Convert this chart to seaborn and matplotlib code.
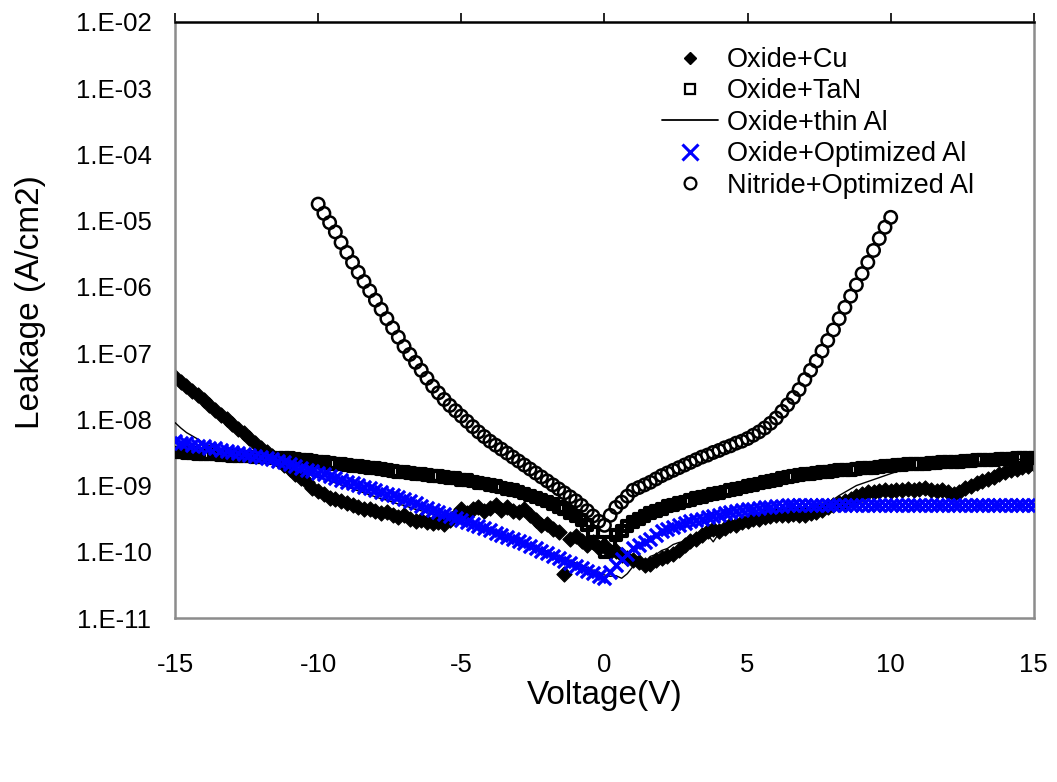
import numpy as np
import matplotlib
matplotlib.use("Agg")
import matplotlib.pyplot as plt
from matplotlib.lines import Line2D
import seaborn as sns

# Voltage sweeps (V)
volts = np.round(np.linspace(-15, 15, 151), 1)
volts_nitride = np.round(np.linspace(-10, 10, 101), 1)

# log10 of leakage (A/cm2), 0.2 V steps (5 values per volt)
log_cu = [
    -7.36, -7.43, -7.50, -7.57, -7.64,   # -15
    -7.71, -7.79, -7.86, -7.93, -8.00,   # -14
    -8.07, -8.14, -8.21, -8.28, -8.36,   # -13
    -8.43, -8.50, -8.56, -8.62, -8.69,   # -12
    -8.75, -8.82, -8.88, -8.95, -9.04,   # -11
    -9.08, -9.12, -9.19, -9.21, -9.24,   # -10
    -9.27, -9.30, -9.33, -9.35, -9.36,   # -9
    -9.38, -9.42, -9.40, -9.44, -9.47,   # -8
    -9.45, -9.50, -9.54, -9.52, -9.55,   # -7
    -9.57, -9.55, -9.58, -9.52, -9.45,   # -6
    -9.35, -9.42, -9.36, -9.32, -9.38,   # -5
    -9.34, -9.30, -9.37, -9.33, -9.39,   # -4
    -9.40, -9.36, -9.45, -9.52, -9.60,   # -3
    -9.58, -9.65, -9.70, -10.33, -9.80,  # -2
    -9.76, -9.84, -9.90, -9.85, -9.95,   # -1
    -9.90, -10.00, -9.99, -10.05, -10.10,  # 0
    -10.12, -10.16, -10.20, -10.19, -10.12,  # 1
    -10.10, -10.06, -10.04, -9.98, -9.90,  # 2
    -9.84, -9.80, -9.75, -9.69, -9.66,   # 3
    -9.69, -9.64, -9.60, -9.59, -9.55,   # 4
    -9.53, -9.51, -9.50, -9.47, -9.46,   # 5
    -9.45, -9.44, -9.44, -9.43, -9.45,   # 6
    -9.44, -9.42, -9.40, -9.37, -9.33,   # 7
    -9.30, -9.27, -9.24, -9.20, -9.16,   # 8
    -9.12, -9.10, -9.09, -9.08, -9.07,   # 9
    -9.08, -9.06, -9.06, -9.05, -9.07,   # 10
    -9.05, -9.04, -9.06, -9.08, -9.07,   # 11
    -9.10, -9.12, -9.09, -9.04, -9.00,   # 12
    -8.96, -8.93, -8.90, -8.87, -8.83,   # 13
    -8.80, -8.77, -8.75, -8.72, -8.70,   # 14
    -8.68,                               # 15
]

log_tan = [
    -8.50, -8.50, -8.51, -8.51, -8.52,   # -15
    -8.52, -8.53, -8.53, -8.54, -8.54,   # -14
    -8.55, -8.55, -8.56, -8.56, -8.57,   # -13
    -8.57, -8.57, -8.58, -8.58, -8.59,   # -12
    -8.59, -8.60, -8.61, -8.62, -8.63,   # -11
    -8.64, -8.65, -8.66, -8.67, -8.68,   # -10
    -8.69, -8.70, -8.71, -8.72, -8.73,   # -9
    -8.74, -8.75, -8.77, -8.78, -8.79,   # -8
    -8.80, -8.81, -8.82, -8.83, -8.84,   # -7
    -8.85, -8.86, -8.87, -8.88, -8.89,   # -6
    -8.91, -8.92, -8.94, -8.96, -8.97,   # -5
    -8.99, -9.01, -9.03, -9.05, -9.07,   # -4
    -9.09, -9.12, -9.15, -9.18, -9.21,   # -3
    -9.24, -9.28, -9.32, -9.36, -9.41,   # -2
    -9.46, -9.52, -9.60, -9.70, -9.85,   # -1
    -10.00, -9.85, -9.75, -9.68, -9.61,  # 0
    -9.55, -9.50, -9.46, -9.42, -9.38,   # 1
    -9.35, -9.31, -9.29, -9.26, -9.24,   # 2
    -9.22, -9.19, -9.17, -9.15, -9.13,   # 3
    -9.11, -9.09, -9.07, -9.05, -9.03,   # 4
    -9.01, -8.99, -8.97, -8.95, -8.93,   # 5
    -8.91, -8.89, -8.87, -8.85, -8.84,   # 6
    -8.83, -8.82, -8.81, -8.80, -8.79,   # 7
    -8.78, -8.77, -8.77, -8.76, -8.75,   # 8
    -8.74, -8.73, -8.73, -8.72, -8.71,   # 9
    -8.70, -8.69, -8.69, -8.68, -8.68,   # 10
    -8.67, -8.67, -8.66, -8.66, -8.65,   # 11
    -8.65, -8.64, -8.64, -8.63, -8.63,   # 12
    -8.62, -8.62, -8.61, -8.61, -8.60,   # 13
    -8.60, -8.60, -8.59, -8.59, -8.58,   # 14
    -8.58,                               # 15
]

log_thin_al = [
    -8.05, -8.13, -8.20, -8.25, -8.30,   # -15
    -8.36, -8.40, -8.43, -8.46, -8.48,   # -14
    -8.50, -8.52, -8.54, -8.56, -8.58,   # -13
    -8.60, -8.62, -8.64, -8.66, -8.69,   # -12
    -8.72, -8.75, -8.78, -8.81, -8.84,   # -11
    -8.87, -8.90, -8.93, -8.96, -8.99,   # -10
    -9.02, -9.05, -9.08, -9.11, -9.14,   # -9
    -9.17, -9.20, -9.22, -9.25, -9.28,   # -8
    -9.30, -9.33, -9.36, -9.38, -9.41,   # -7
    -9.43, -9.46, -9.48, -9.51, -9.53,   # -6
    -9.56, -9.58, -9.61, -9.63, -9.66,   # -5
    -9.68, -9.71, -9.74, -9.77, -9.80,   # -4
    -9.83, -9.86, -9.89, -9.93, -9.96,   # -3
    -9.99, -10.03, -10.06, -10.10, -10.13,  # -2
    -10.17, -10.20, -10.24, -10.28, -10.31,  # -1
    -10.35, -10.37, -10.36, -10.40, -10.33,  # 0
    -10.22, -10.14, -10.16, -10.07, -10.04,  # 1
    -9.98, -9.95, -9.89, -9.86, -9.84,   # 2
    -9.82, -9.80, -9.79, -9.74, -9.85,   # 3
    -9.72, -9.70, -9.66, -9.64, -9.62,   # 4
    -9.58, -9.55, -9.52, -9.50, -9.46,   # 5
    -9.45, -9.43, -9.42, -9.40, -9.38,   # 6
    -9.37, -9.35, -9.33, -9.30, -9.27,   # 7
    -9.21, -9.15, -9.10, -9.05, -9.00,   # 8
    -8.97, -8.94, -8.91, -8.88, -8.85,   # 9
    -8.82, -8.79, -8.77, -8.76, -8.74,   # 10
    -8.73, -8.72, -8.71, -8.70, -8.69,   # 11
    -8.68, -8.67, -8.67, -8.66, -8.65,   # 12
    -8.65, -8.64, -8.63, -8.63, -8.62,   # 13
    -8.62, -8.61, -8.61, -8.60, -8.60,   # 14
    -8.59,                               # 15
]

log_opt_al = [
    -8.33, -8.35, -8.36, -8.38, -8.40,   # -15
    -8.41, -8.43, -8.44, -8.46, -8.48,   # -14
    -8.49, -8.51, -8.52, -8.54, -8.56,   # -13
    -8.57, -8.59, -8.60, -8.63, -8.65,   # -12
    -8.68, -8.70, -8.73, -8.76, -8.78,   # -11
    -8.81, -8.83, -8.86, -8.89, -8.91,   # -10
    -8.94, -8.96, -8.99, -9.02, -9.04,   # -9
    -9.07, -9.09, -9.12, -9.15, -9.18,   # -8
    -9.21, -9.24, -9.27, -9.31, -9.34,   # -7
    -9.37, -9.40, -9.43, -9.46, -9.49,   # -6
    -9.52, -9.55, -9.58, -9.61, -9.64,   # -5
    -9.67, -9.71, -9.74, -9.77, -9.80,   # -4
    -9.84, -9.87, -9.91, -9.95, -9.99,   # -3
    -10.02, -10.06, -10.10, -10.14, -10.17,  # -2
    -10.21, -10.25, -10.29, -10.32, -10.36,  # -1
    -10.40, -10.30, -10.20, -10.11, -10.03,  # 0
    -9.95, -9.90, -9.85, -9.80, -9.74,   # 1
    -9.69, -9.65, -9.62, -9.59, -9.56,   # 2
    -9.54, -9.52, -9.50, -9.48, -9.46,   # 3
    -9.44, -9.42, -9.40, -9.38, -9.37,   # 4
    -9.36, -9.35, -9.34, -9.33, -9.32,   # 5
    -9.31, -9.31, -9.30, -9.30, -9.30,   # 6
    -9.29, -9.29, -9.29, -9.29, -9.29,   # 7
    -9.29, -9.29, -9.29, -9.29, -9.29,   # 8
    -9.29, -9.29, -9.29, -9.29, -9.29,   # 9
    -9.29, -9.29, -9.29, -9.29, -9.29,   # 10
    -9.29, -9.29, -9.29, -9.29, -9.29,   # 11
    -9.29, -9.29, -9.29, -9.29, -9.29,   # 12
    -9.29, -9.29, -9.29, -9.29, -9.29,   # 13
    -9.29, -9.29, -9.29, -9.29, -9.29,   # 14
    -9.29,                               # 15
]

log_nitride = [
    -4.75, -4.89, -5.03, -5.17, -5.33,   # -10
    -5.48, -5.63, -5.78, -5.92, -6.06,   # -9
    -6.20, -6.34, -6.48, -6.62, -6.76,   # -8
    -6.90, -7.02, -7.14, -7.26, -7.38,   # -7
    -7.50, -7.60, -7.70, -7.79, -7.87,   # -6
    -7.95, -8.03, -8.11, -8.19, -8.26,   # -5
    -8.33, -8.39, -8.45, -8.51, -8.57,   # -4
    -8.63, -8.69, -8.75, -8.81, -8.87,   # -3
    -8.93, -8.99, -9.05, -9.11, -9.17,   # -2
    -9.23, -9.30, -9.38, -9.46, -9.54,   # -1
    -9.60, -9.45, -9.33, -9.25, -9.16,   # 0
    -9.07, -9.03, -8.99, -8.95, -8.90,   # 1
    -8.85, -8.81, -8.77, -8.73, -8.69,   # 2
    -8.65, -8.61, -8.57, -8.54, -8.50,   # 3
    -8.47, -8.43, -8.40, -8.36, -8.33,   # 4
    -8.29, -8.24, -8.19, -8.13, -8.06,   # 5
    -7.98, -7.88, -7.78, -7.67, -7.55,   # 6
    -7.40, -7.26, -7.12, -6.97, -6.81,   # 7
    -6.65, -6.48, -6.31, -6.14, -5.97,   # 8
    -5.80, -5.63, -5.45, -5.27, -5.10,   # 9
    -4.95,                               # 10
]

labels = ["Oxide+Cu", "Oxide+TaN", "Oxide+thin Al",
          "Oxide+Optimized Al", "Nitride+Optimized Al"]
y_ticks = [1e-11, 1e-10, 1e-9, 1e-8, 1e-7, 1e-6, 1e-5, 1e-4, 1e-3, 1e-2]
y_tick_labels = ["1.E-11", "1.E-10", "1.E-09", "1.E-08", "1.E-07",
                 "1.E-06", "1.E-05", "1.E-04", "1.E-03", "1.E-02"]
x_ticks = [-15, -10, -5, 0, 5, 10, 15]

assert len(log_cu) == len(volts) == len(log_tan) == len(log_thin_al) == len(log_opt_al)
assert len(log_nitride) == len(volts_nitride)

sns.set_style("white")
plt.rcParams["font.family"] = ["Liberation Sans", "DejaVu Sans"]
plt.rcParams["text.color"] = "black"
plt.rcParams["axes.labelcolor"] = "black"
plt.rcParams["xtick.color"] = "black"
plt.rcParams["ytick.color"] = "black"

fig = plt.figure(figsize=(10.57, 7.82), dpi=100)
ax = fig.add_axes([0.1656, 0.2097, 0.8125, 0.7622])

blue = "#0000ff"

sns.scatterplot(x=volts, y=10 ** np.array(log_cu), marker="D", s=60,
                color="black", edgecolor="black", linewidth=0.8, ax=ax, zorder=2)
sns.scatterplot(x=volts, y=10 ** np.array(log_tan), marker="s", s=50,
                facecolor="none", edgecolor="black", linewidth=3.0, ax=ax, zorder=3)
sns.lineplot(x=volts, y=10 ** np.array(log_thin_al), color="black",
             linewidth=1.0, sort=False, estimator=None, ax=ax, zorder=4)
sns.scatterplot(x=volts, y=10 ** np.array(log_opt_al), marker="x", s=90,
                color=blue, linewidth=2.4, ax=ax, zorder=5)
sns.scatterplot(x=volts_nitride, y=10 ** np.array(log_nitride), marker="o", s=80,
                facecolor="none", edgecolor="black", linewidth=1.8, ax=ax, zorder=6)

ax.set_yscale("log")
ax.set_ylim(1e-11, 1e-2)
ax.set_xlim(-15, 15)
ax.set_yticks(y_ticks)
ax.set_yticklabels(y_tick_labels)
ax.minorticks_off()
ax.set_xticks(x_ticks)
ax.set_xticklabels([str(t) for t in x_ticks])

ax.tick_params(axis="y", left=False, length=0, pad=17, labelsize=18.5,
               labelcolor="black")
ax.tick_params(axis="x", top=True, bottom=False, labeltop=False, labelbottom=True,
               direction="out", length=6.5, width=1.2, color="black", pad=19,
               labelsize=18.5, labelcolor="black")

for side in ["left", "right", "bottom"]:
    ax.spines[side].set_color("#8c8c8c")
    ax.spines[side].set_linewidth(1.8)
ax.spines["top"].set_color("black")
ax.spines["top"].set_linewidth(1.8)

ax.set_xlabel("Voltage(V)", fontsize=24, labelpad=2, color="black")
ax.set_ylabel("Leakage (A/cm2)", fontsize=24, color="black")
ax.yaxis.set_label_coords(-0.150, 0.53)

handles = [
    Line2D([], [], linestyle="none", marker="D", markersize=6.5, color="black"),
    Line2D([], [], linestyle="none", marker="s", markersize=6.5, markerfacecolor="none",
           markeredgecolor="black", markeredgewidth=1.6),
    Line2D([], [], linestyle="-", color="black", linewidth=1.3),
    Line2D([], [], linestyle="none", marker="x", markersize=12, color=blue,
           markeredgewidth=2.2),
    Line2D([], [], linestyle="none", marker="o", markersize=8.5, markerfacecolor="none",
           markeredgecolor="black", markeredgewidth=1.6),
]
leg = ax.legend(handles, labels, loc="upper left", bbox_to_anchor=(0.567, 0.958),
                frameon=False, fontsize=19.5, handlelength=2.07, handletextpad=0.33,
                labelspacing=0.2, borderpad=0, borderaxespad=0)
for t in leg.get_texts():
    t.set_color("black")

fig.savefig("out.png", dpi=100)
